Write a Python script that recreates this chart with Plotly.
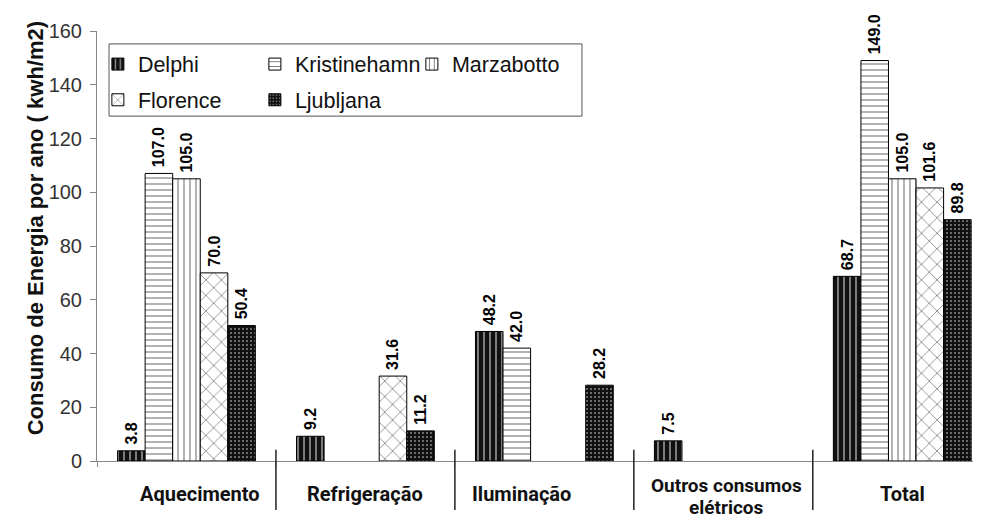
import plotly.graph_objects as go

categories = ["Aquecimento", "Refrigeração", "Iluminação", "Outros consumos<br>elétricos", "Total"]
series_names = ["Delphi", "Kristinehamn", "Marzabotto", "Florence", "Ljubljana"]
delphi = [3.8, 9.2, 48.2, 7.5, 68.7]
kristinehamn = [107.0, None, 42.0, None, 149.0]
marzabotto = [105.0, None, None, None, 105.0]
florence = [70.0, 31.6, None, None, 101.6]
ljubljana = [50.4, 11.2, 28.2, None, 89.8]
y_ticks = [0, 20, 40, 60, 80, 100, 120, 140, 160]

values = [delphi, kristinehamn, marzabotto, florence, ljubljana]
patterns = [
    dict(shape="|", fgcolor="white", bgcolor="#111111", size=6, solidity=0.3),
    dict(shape="-", fgcolor="black", bgcolor="white", size=6, solidity=0.2),
    dict(shape="|", fgcolor="black", bgcolor="white", size=6, solidity=0.2),
    dict(shape="x", fgcolor="black", bgcolor="white", size=11, solidity=0.14),
    dict(shape=".", fgcolor="white", bgcolor="#111111", size=4, solidity=0.2),
]
legend_ids = ["legend", "legend", "legend", "legend2", "legend2"]

fig = go.Figure()
for name, vals, pat, lg in zip(series_names, values, patterns, legend_ids):
    fig.add_trace(go.Bar(
        name=name, x=categories, y=vals,
        marker=dict(color="white", pattern=pat, line=dict(color="black", width=1)),
        text=[None if v is None else "\u2009" + f"{v:.1f}" for v in vals],
        textposition="outside", textangle=-90, constraintext="none",
        textfont=dict(family="Liberation Sans, Arial", size=16, color="black", weight="bold"),
        cliponaxis=False, legend=lg,
    ))

# category labels below the axis (one annotation per line)
label_shift = [14, 0, -23, 3, 0]
for cat, dx in zip(categories, label_shift):
    lines = cat.split("<br>")
    multi = len(lines) > 1
    for j, line in enumerate(lines):
        fig.add_annotation(x=cat, y=0, xref="x", yref="paper", yanchor="middle",
                           yshift=(-24.5 - 22 * j) if multi else -33, xshift=dx,
                           text=f"<b>{line}</b>", showarrow=False,
                           font=dict(family="Roboto, Liberation Sans", size=19 if multi else 20,
                                     color="#111"))

# dividers between categories
for i in range(len(categories) - 1):
    fig.add_shape(type="line", xref="x", yref="paper", x0=i + 0.5, x1=i + 0.5,
                  y0=0.026, y1=-0.114, line=dict(color="#222", width=1.5))

# legend box
fig.add_shape(type="rect", xref="paper", yref="paper", x0=0.0136, x1=0.5486,
              y0=0.802, y1=0.970, line=dict(color="#555", width=1), fillcolor="rgba(0,0,0,0)")

# y title
fig.add_annotation(x=-0.085, y=0.542, xref="paper", yref="paper", textangle=-90,
                   text="<b>Consumo de Energia por ano ( kwh/m2)</b>", showarrow=False,
                   font=dict(family="Liberation Sans, Arial", size=22, color="#111"))

legend_common = dict(orientation="h", xanchor="left", yanchor="middle",
                     bgcolor="rgba(0,0,0,0)", borderwidth=0, entrywidth=112,
                     font=dict(family="Liberation Sans, Arial", size=21.5, color="#111"))

fig.update_layout(
    width=973, height=511,
    margin=dict(l=89, r=0, t=23, b=58),
    plot_bgcolor="white", paper_bgcolor="white",
    barmode="group", bargap=0.23, bargroupgap=0,
    showlegend=True,
    legend=dict(x=0.001, y=0.923, **legend_common),
    legend2=dict(x=0.001, y=0.84, **legend_common),
    xaxis=dict(range=[-0.5, 4.44], showticklabels=False, showline=True, linecolor="#888",
               linewidth=1, ticks="outside", tickson="boundaries", ticklen=5, tickcolor="#888",
               showgrid=False, zeroline=False),
    yaxis=dict(range=[0, 160], tickvals=y_ticks, showline=True, linecolor="#888", linewidth=1,
               ticks="outside", ticklen=6, tickcolor="#888", showgrid=False, zeroline=False,
               tickfont=dict(family="Liberation Sans, Arial", size=20, color="#333"),
               ticklabelstandoff=4),
)

fig.write_html("out.html")
